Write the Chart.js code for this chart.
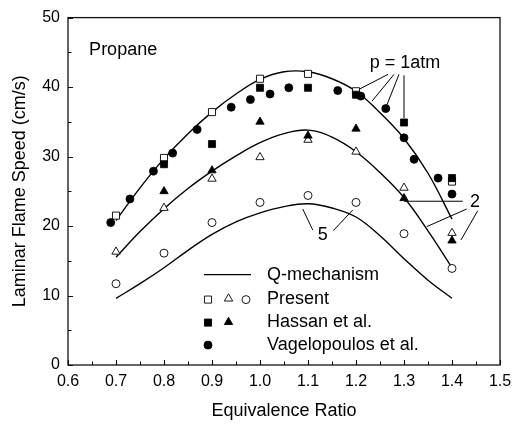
<!DOCTYPE html>
<html>
<head>
<meta charset="utf-8">
<script src="https://cdn.jsdelivr.net/npm/chart.js@4.4.1/dist/chart.umd.min.js"></script>
<style>
  html, body { margin: 0; padding: 0; background: #fff; }
  #wrap { width: 522px; height: 426px; }
</style>
</head>
<body>
<div id="wrap"><canvas id="c" width="522" height="426"></canvas></div>
<script>
const FONT = '"Liberation Sans", Arial, Helvetica, sans-serif';

// Q-mechanism predictions (cm/s) on a 0.05 grid of equivalence ratio
const phiModel  = [0.70, 0.75, 0.80, 0.85, 0.90, 0.95, 1.00, 1.05, 1.10, 1.15, 1.20, 1.25, 1.30, 1.35, 1.40];
const model1atm = [20.8, 25.5, 29.7, 33.3, 36.4, 39.0, 41.1, 42.2, 42.2, 41.2, 39.4, 36.3, 32.6, 27.6, 21.0];
const model2atm = [15.5, 19.2, 22.5, 25.4, 27.9, 30.1, 32.0, 33.3, 33.8, 32.8, 30.7, 27.7, 24.1, 19.3, 14.0];
const model5atm = [ 9.6, 11.7, 14.0, 16.5, 18.8, 20.6, 21.9, 22.8, 23.2, 22.6, 21.3, 18.6, 15.3, 12.2,  9.6];

// Present measurements (open symbols)
const phiPresent  = [0.70, 0.80, 0.90, 1.00, 1.10, 1.20, 1.30, 1.40];
const present1atm = [21.5, 29.8, 36.4, 41.2, 41.9, 39.4, null, 26.4];
const present2atm = [16.3, 22.6, 26.8, 29.9, 32.4, 30.7, 25.5, 19.0];
const present5atm = [11.7, 16.1, 20.5, 23.4, 24.4, 23.4, 18.9, 13.9];

// Hassan et al. (filled squares / triangles)
const phiHassan  = [0.80, 0.90, 1.00, 1.10, 1.20, 1.30, 1.40];
const hassan1atm = [28.9, 31.8, 39.9, 39.9, 38.9, 34.9, 26.9];
const hassan2atm = [25.0, 28.0, 35.0, 33.0, 34.0, 24.0, 17.9];

// Vagelopoulos et al., 1 atm (filled circles)
const phiVag  = [0.689, 0.729, 0.778, 0.818, 0.869, 0.940, 0.980, 1.021, 1.060, 1.162, 1.210, 1.262, 1.300, 1.321, 1.371, 1.400];
const vag1atm = [20.5, 23.9, 27.9, 30.5, 33.9, 37.1, 38.2, 39.0, 39.9, 39.5, 38.7, 36.9, 32.7, 29.6, 26.9, 24.6];

// Axis ticks
const xTickValues  = [0.6, 0.7, 0.8, 0.9, 1.0, 1.1, 1.2, 1.3, 1.4, 1.5];
const xMinorValues = [0.65, 0.75, 0.85, 0.95, 1.05, 1.15, 1.25, 1.35, 1.45];
const yTickValues  = [0, 10, 20, 30, 40, 50];
const yMinorValues = [5, 15, 25, 35, 45];

// Text labels and their leader lines (data units)
const notes = [
  { text: 'Propane',  x: 0.644, y: 45.3, align: 'left' },
  { text: 'p = 1atm', x: 1.302, y: 43.4, align: 'center' },
  { text: '2',        x: 1.448, y: 23.5, align: 'center' },
  { text: '5',        x: 1.131, y: 18.7, align: 'center' }
];
const leaders = [
  [[1.2667, 41.83], [1.2063, 39.68]],
  [[1.2792, 41.83], [1.2333, 37.97]],
  [[1.2896, 41.83], [1.2625, 37.11]],
  [[1.3000, 41.69], [1.3000, 35.53]],
  [[1.3000, 23.57], [1.4223, 23.57]],
  [[1.4306, 22.45], [1.3473, 19.91]],
  [[1.4535, 22.20], [1.4188, 18.00]],
  [[1.0890, 22.45], [1.1098, 19.44]],
  [[1.1527, 19.34], [1.1931, 22.30]]
];

const legendRows = ['Q-mechanism', 'Present', 'Hassan et al.', 'Vagelopoulos et al.'];

const pts = (xs, ys) => xs.map((x, i) => ({ x: x, y: ys[i] })).filter(p => p.y !== null);

const SQ = 5, TRI = 4.8, CIR = 4;

function curve(data) {
  return { data: pts(phiModel, data), showLine: true, pointRadius: 0, borderColor: '#000',
           borderWidth: 1.4, tension: 0.4, fill: false, order: 10 };
}
function marks(xs, ys, style, r, filled, order) {
  return { data: pts(xs, ys), showLine: false, pointStyle: style, pointRadius: r,
           pointBackgroundColor: filled ? '#000' : '#fff', pointBorderColor: '#000',
           pointBorderWidth: filled ? 0.8 : 0.9, order: order };
}

// Same geometry Chart.js uses for its point styles
function symbol(ctx, style, r, x, y, filled) {
  ctx.save();
  ctx.beginPath();
  if (style === 'rect') {
    const s = Math.SQRT1_2 * r;
    ctx.rect(x - s, y - s, 2 * s, 2 * s);
  } else if (style === 'triangle') {
    const a = 2 * Math.PI / 3;
    ctx.moveTo(x, y - r);
    ctx.lineTo(x + Math.sin(a) * r, y - Math.cos(a) * r);
    ctx.lineTo(x + Math.sin(2 * a) * r, y - Math.cos(2 * a) * r);
    ctx.closePath();
  } else {
    ctx.arc(x, y, r, 0, Math.PI * 2);
  }
  ctx.fillStyle = filled ? '#000' : '#fff';
  ctx.fill();
  ctx.lineWidth = 0.9;
  ctx.strokeStyle = '#000';
  ctx.stroke();
  ctx.restore();
}

const decor = {
  id: 'decor',
  afterDraw(chart) {
    const { ctx, chartArea: a, scales: { x, y } } = chart;
    ctx.save();
    // frame
    ctx.strokeStyle = '#111';
    ctx.lineWidth = 1.3;
    ctx.strokeRect(a.left, a.top, a.right - a.left, a.bottom - a.top);
    // inward tick marks
    ctx.lineWidth = 1.1;
    ctx.beginPath();
    xTickValues.forEach(v => { const px = Math.round(x.getPixelForValue(v)) + 0.5; ctx.moveTo(px, a.bottom); ctx.lineTo(px, a.bottom - 5); });
    xMinorValues.forEach(v => { const px = Math.round(x.getPixelForValue(v)) + 0.5; ctx.moveTo(px, a.bottom); ctx.lineTo(px, a.bottom - 3.5); });
    yTickValues.forEach(v => { const py = Math.round(y.getPixelForValue(v)) + 0.5; ctx.moveTo(a.left, py); ctx.lineTo(a.left + 5, py); });
    yMinorValues.forEach(v => { const py = Math.round(y.getPixelForValue(v)) + 0.5; ctx.moveTo(a.left, py); ctx.lineTo(a.left + 3.5, py); });
    ctx.stroke();

    // leader lines
    ctx.lineWidth = 1;
    ctx.strokeStyle = '#000';
    ctx.beginPath();
    leaders.forEach(([p, q]) => {
      ctx.moveTo(x.getPixelForValue(p[0]), y.getPixelForValue(p[1]));
      ctx.lineTo(x.getPixelForValue(q[0]), y.getPixelForValue(q[1]));
    });
    ctx.stroke();

    // labels
    ctx.fillStyle = '#000';
    ctx.font = '18px ' + FONT;
    ctx.textBaseline = 'middle';
    notes.forEach(n => {
      ctx.textAlign = n.align;
      ctx.fillText(n.text, x.getPixelForValue(n.x), y.getPixelForValue(n.y));
    });

    // legend
    const lx = a.left + 136, tx = a.left + 199;
    const rowY = [a.top + 257, a.top + 281, a.top + 304.5, a.top + 327.5];
    ctx.lineWidth = 1.4;
    ctx.beginPath();
    ctx.moveTo(lx, rowY[0]); ctx.lineTo(lx + 47, rowY[0]);
    ctx.stroke();
    symbol(ctx, 'rect', SQ, lx + 4, rowY[1] + 1, false);
    symbol(ctx, 'triangle', TRI, lx + 24.5, rowY[1], false);
    symbol(ctx, 'circle', CIR, lx + 42, rowY[1] + 1, false);
    symbol(ctx, 'rect', SQ, lx + 4, rowY[2] + 0.5, true);
    symbol(ctx, 'triangle', TRI, lx + 24.5, rowY[2], true);
    symbol(ctx, 'circle', CIR, lx + 4, rowY[3], true);
    ctx.textAlign = 'left';
    ctx.fillStyle = '#000';
    legendRows.forEach((t, i) => ctx.fillText(t, tx, rowY[i]));
    ctx.restore();
  }
};

new Chart(document.getElementById('c'), {
  type: 'scatter',
  data: {
    datasets: [
      curve(model1atm),
      curve(model2atm),
      curve(model5atm),
      marks(phiPresent, present1atm, 'rect', SQ, false, 5),
      marks(phiPresent, present2atm, 'triangle', TRI, false, 5),
      marks(phiPresent, present5atm, 'circle', CIR, false, 5),
      marks(phiHassan, hassan1atm, 'rect', SQ, true, 3),
      marks(phiHassan, hassan2atm, 'triangle', TRI, true, 3),
      marks(phiVag, vag1atm, 'circle', CIR, true, 1)
    ]
  },
  options: {
    responsive: false,
    animation: false,
    events: [],
    layout: { padding: { top: 16, right: 22, left: 0, bottom: 0 } },
    plugins: { legend: { display: false }, tooltip: { enabled: false } },
    scales: {
      x: {
        type: 'linear', min: 0.6, max: 1.5,
        afterBuildTicks: s => { s.ticks = xTickValues.map(v => ({ value: v })); },
        afterFit: s => { s.height = 61; },
        grid: { display: false, drawTicks: false },
        border: { display: false },
        ticks: { color: '#000', padding: 7, maxRotation: 0, autoSkip: false,
                 font: { family: FONT, size: 16 }, callback: v => Number(v).toFixed(1) },
        title: { display: true, text: 'Equivalence Ratio', color: '#000',
                 font: { family: FONT, size: 18 }, padding: { top: 0, bottom: 4 } }
      },
      y: {
        type: 'linear', min: 0, max: 50,
        afterBuildTicks: s => { s.ticks = yTickValues.map(v => ({ value: v })); },
        afterFit: s => { s.width = 68; },
        grid: { display: false, drawTicks: false },
        border: { display: false },
        ticks: { color: '#000', padding: 8, font: { family: FONT, size: 16 } },
        title: { display: true, text: 'Laminar Flame Speed (cm/s)', color: '#000',
                 font: { family: FONT, size: 18 }, padding: { top: 9, bottom: 0 } }
      }
    }
  },
  plugins: [decor]
});
</script>
</body>
</html>
